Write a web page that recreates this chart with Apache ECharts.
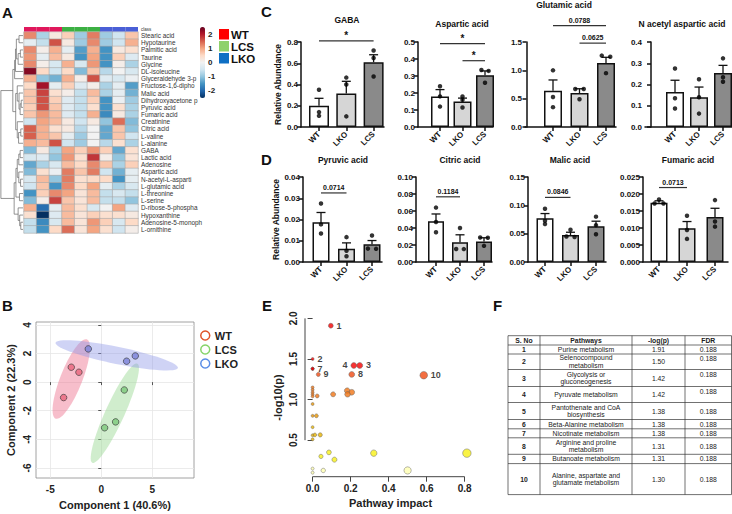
<!DOCTYPE html>
<html>
<head>
<meta charset="utf-8">
<script src="https://cdn.jsdelivr.net/npm/echarts@6/dist/echarts.min.js"></script>
<style>
html, body { margin: 0; padding: 0; background: #fff; }
#fig { width: 732px; height: 514px; }
</style>
</head>
<body>
<div id="fig"></div>
<script>
// ---------- A: heatmap ----------
const metabolites = ['Stearic acid', 'Hypotaurine', 'Palmitic acid', 'Taurine', 'Glycine', 'DL-isoleucine',
  'Glyceraldehyde 3-p', 'Fructose-1,6-dipho', 'Malic acid', 'Dihydroxyacetone p', 'Pyruvic acid', 'Fumaric acid',
  'Creatinine', 'Citric acid', 'L-valine', 'L-alanine', 'GABA', 'Lactic acid', 'Adenosine', 'Aspartic acid',
  'N-acetyl-L-asparti', 'L-glutamic acid', 'L-threonine', 'L-serine', 'D-ribose-5-phospha', 'Hypoxanthine',
  'Adenosine-5-monoph', 'L-ornithine'];
const sampleClass = ['WT', 'WT', 'WT', 'LCS', 'LCS', 'LCS', 'LKO', 'LKO', 'LKO'];
const zScores = [
  [1.2, -0.8, 0.2, 0.6, -0.9, 1.3, -0.9, -0.5, 0.7],
  [-0.2, -0.6, 1.6, 0.2, -0.9, 1.2, -0.9, -0.5, 0.9],
  [1.2, 0.1, 0.9, -0.2, -1.4, 0.9, -1.5, 0.2, 0.4],
  [1.1, -0.2, 0.8, 0.2, -1.5, 1.0, -1.5, 0.6, -0.3],
  [1.2, 0.1, -0.4, 0.9, -0.4, 1.1, -1.5, 0.1, -0.8],
  [2.3, 0.5, -0.5, 0.5, -1.1, 0.7, -0.7, 0.0, -0.4],
  [0.9, -1.0, -1.2, 0.9, 0.1, 1.6, -0.3, -0.4, -0.1],
  [0.5, 2.1, -0.2, 0.6, -0.3, 0.1, -0.8, -0.2, -1.4],
  [0.7, 1.7, 0.4, 0.1, -0.6, 0.8, -0.8, -0.2, -1.2],
  [0.7, 1.6, 0.6, -0.3, -0.6, 0.6, -1.5, -0.1, -0.9],
  [0.6, 1.6, 0.7, -0.3, -0.6, 0.4, -1.5, 0.4, -0.8],
  [0.7, 1.1, 0.8, -0.3, -0.6, 0.9, -1.6, 0.2, -0.8],
  [-0.5, 1.0, 0.8, 0.2, -0.5, 0.2, -1.0, 1.4, -1.1],
  [1.5, 0.9, 0.4, 0.2, -0.7, 0.0, -1.3, 0.7, -1.0],
  [1.5, 0.9, 0.7, -0.2, -0.9, 0.0, -1.3, 0.7, -0.5],
  [0.9, 0.8, 1.6, -0.5, -0.9, 0.0, -0.7, 0.4, -0.8],
  [-1.1, 0.2, -0.8, 1.0, 0.6, 1.1, 0.6, -1.3, 0.4],
  [-0.4, -0.3, -1.0, 1.1, 0.4, 1.8, 0.1, -1.0, 0.3],
  [-1.3, -0.8, -0.4, 0.8, 0.5, 1.2, 0.7, -0.8, 0.6],
  [-1.1, 0.4, -0.1, 1.3, 0.7, 1.3, -0.5, -1.2, -0.2],
  [-0.4, 0.8, -1.0, 1.3, 0.4, 0.5, 0.5, -1.5, -0.2],
  [-0.5, 0.7, -1.5, 1.2, 0.5, 1.0, -0.2, -0.8, -0.4],
  [-1.5, 0.6, 1.2, 1.0, 0.3, 0.8, -0.6, -0.4, -0.6],
  [-1.1, 0.1, 1.7, 0.7, 0.3, 0.8, -0.6, -0.6, -1.0],
  [0.9, -1.9, -0.2, 0.8, 0.4, -0.4, 0.0, 1.0, -0.3],
  [0.4, -2.6, -0.3, 0.8, 0.3, 0.6, 0.4, 0.4, 0.2],
  [-0.6, -1.6, -0.4, 0.8, 0.3, 1.1, 0.6, -0.4, 0.5],
  [-0.6, -1.5, 0.5, 1.4, 0.3, 1.0, 0.4, -0.5, 0.1]
];
// row dendrogram as linkage: [child a, child b, height]; new nodes numbered from 28
const rowLinkage = [
  [2, 3, 1.2], [0, 1, 1.8], [28, 4, 2.2], [29, 30, 3.0], [31, 5, 3.4], [32, 6, 3.8],
  [9, 10, 0.8], [34, 11, 1.3], [8, 35, 1.8], [7, 36, 2.6], [13, 14, 1.0], [38, 15, 2.0],
  [12, 39, 2.6], [37, 40, 3.3], [33, 41, 4.6],
  [16, 17, 1.3], [43, 18, 1.9], [20, 21, 1.1], [19, 45, 1.9], [44, 46, 2.6], [22, 23, 1.6],
  [47, 48, 3.2], [26, 27, 1.0], [25, 50, 1.5], [24, 51, 2.2], [49, 52, 4.0], [42, 53, 10]
];
const colorTicks = [-2, -1, 0, 1, 2];
const classLegend = ['WT', 'LCS', 'LKO'];

// ---------- C / D: bar charts ----------
const groups = ['WT', 'LKO', 'LCS'];
const gabaMean = [0.20, 0.315, 0.61], gabaSem = [0.07, 0.115, 0.07];
const gabaDots = [[0.35, 0.14, 0.105], [0.465, 0.40, 0.10], [0.72, 0.65, 0.475]];
const gabaSig = [[0, 2, 0.81, '*']];
const aspMean = [0.18, 0.15, 0.305], aspSem = [0.04, 0.02, 0.025];
const aspDots = [[0.24, 0.18, 0.12], [0.18, 0.16, 0.115], [0.335, 0.33, 0.26]];
const aspSig = [[0, 2, 0.49, '*'], [1, 2, 0.39, '*']];
const gluMean = [0.64, 0.60, 1.13], gluSem = [0.19, 0.075, 0.10];
const gluDots = [[1.0, 0.53, 0.35], [0.67, 0.67, 0.49], [1.26, 1.24, 0.95]];
const gluSig = [[0, 2, 1.79, '0.0788'], [1, 2, 1.48, '0.0625']];
const naaMean = [0.165, 0.14, 0.254], naaSem = [0.055, 0.048, 0.036];
const naaDots = [[0.275, 0.135, 0.087], [0.225, 0.14, 0.063], [0.323, 0.234, 0.213]];
const naaSig = [];
const pyrMean = [0.0187, 0.0062, 0.0083], pyrSem = [0.0046, 0.0028, 0.0018];
const pyrDots = [[0.0275, 0.0177, 0.0134], [0.0117, 0.0053, 0.0027], [0.0125, 0.0063, 0.0062]];
const pyrSig = [[0, 1, 0.0325, '0.0714']];
const citMean = [0.048, 0.0233, 0.024], citSem = [0.0085, 0.0087, 0.0045];
const citDots = [[0.064, 0.047, 0.035], [0.040, 0.0153, 0.0152], [0.0288, 0.0285, 0.019]];
const citSig = [[0, 1, 0.0767, '0.1184']];
const malMean = [0.077, 0.0475, 0.063], malSem = [0.0085, 0.005, 0.009];
const malDots = [[0.094, 0.073, 0.067], [0.057, 0.045, 0.044], [0.080, 0.065, 0.049]];
const malSig = [[0, 1, 0.114, '0.0846']];
const fumMean = [0.0174, 0.0099, 0.0132], fumSem = [0.0006, 0.002, 0.0026];
const fumDots = [[0.0184, 0.0172, 0.0172], [0.0136, 0.0094, 0.0068], [0.0182, 0.0119, 0.0104]];
const fumSig = [[0, 1, 0.0219, '0.0713']];

// ---------- B: PCA scores ----------
const pcaGroups = ['WT', 'LCS', 'LKO'];
const pcaWT = [[-3.69, -1.08], [-2.94, 1.04], [-2.19, 0.69]];
const pcaLCS = [[2.26, -0.55], [1.41, -2.78], [0.33, -3.19]];
const pcaLKO = [[-1.27, 2.32], [2.49, 1.46], [3.34, 1.83]];
const pcaXTicks = [-5, 0, 5];
const pcaYTicks = [-6, -4, -2, 0, 2, 4];

// ---------- E: pathway impact ----------
const eImpact = [0.096, 0, 0.248, 0.217, 0, 0, 0, 0.206, 0.03, 0.585,
  0.182, 0.206, 0.184, 0.108, 0.024, 0, 0, 0, 0, 0, 0, 0, 0.02, 0, 0, 0.012, 0.04, 0,
  0.086, 0.044, 0.115, 0.322, 0.812, 0.50, 0.056, 0, 0];
const eLogP = [1.91, 1.50, 1.42, 1.42, 1.38, 1.38, 1.38, 1.31, 1.31, 1.30,
  1.11, 1.09, 1.065, 1.065, 1.045, 1.15, 1.12, 1.09, 1.065, 1.04, 0.945, 0.80, 0.80, 0.66, 0.56, 0.565, 0.565, 0.51,
  0.35, 0.30, 0.26, 0.34, 0.34, 0.127, 0.127, 0.15, 0.10];
const eLabel = ['1', '2', '3', '4', '', '', '7', '8', '9', '10'];
const eXTicks = [0, 0.2, 0.4, 0.6, 0.8];
const eYTicks = [0.5, 1.0, 1.5, 2.0];

// ---------- F: table ----------
const fHeader = ['S. No', 'Pathways', '-log(p)', 'FDR'];
const fNo = ['1', '2', '3', '4', '5', '6', '7', '8', '9', '10'];
const fPathway = ['Purine metabolism', 'Selenocompound\nmetabolism', 'Glycolysis or\ngluconeogenesis',
  'Pyruvate metabolism', 'Pantothenate and CoA\nbiosynthesis', 'Beta-Alanine metabolism',
  'Nicotinate metabolism', 'Arginine and proline\nmetabolism', 'Butanoate metabolism',
  'Alanine, aspartate and\nglutamate metabolism'];
const fLogP = ['1.91', '1.50', '1.42', '1.42', '1.38', '1.38', '1.38', '1.31', '1.31', '1.30'];
const fFDR = ['0.188', '0.188', '0.188', '0.188', '0.188', '0.188', '0.188', '0.188', '0.188', '0.188'];

// ================= build =================
const FONT = "'Liberation Sans', Arial, sans-serif";
const INK = '#111';
const grids = [], xAxes = [], yAxes = [], series = [], graphics = [];

function addGrid(g, xa, ya) {
  grids.push(Object.assign({ containLabel: false, outerBoundsMode: 'none' }, g));
  const gi = grids.length - 1;
  xa.gridIndex = gi; ya.gridIndex = gi;
  xAxes.push(xa); yAxes.push(ya);
  return gi;
}
function txt(text, x, y, font, align, valign, fill) {
  graphics.push({ type: 'text', x: x, y: y, silent: true,
    style: { text: text, font: font, fill: fill || INK, textAlign: align || 'left', textVerticalAlign: valign || 'top' } });
}

// panel letters
txt('A', 2, 5, 'bold 15px ' + FONT);
txt('C', 261, 4, 'bold 15px ' + FONT);
txt('D', 261, 152, 'bold 15px ' + FONT);
txt('B', 2, 298, 'bold 15px ' + FONT);
txt('E', 262, 298, 'bold 15px ' + FONT);
txt('F', 493, 298, 'bold 15px ' + FONT);

// --- A heatmap
const samples = sampleClass.map((c, i) => c + (i % 3 + 1));
const gHeat = addGrid({ left: 24, top: 32, width: 114, height: 201 },
  { type: 'category', data: samples, show: false },
  { type: 'category', data: metabolites, inverse: true, position: 'right',
    axisLine: { show: false }, axisTick: { show: false }, splitLine: { show: false },
    axisLabel: { interval: 0, fontSize: 6.4, color: '#333', margin: 3, fontFamily: FONT } });
const heatData = [];
zScores.forEach((row, r) => row.forEach((v, c) => heatData.push([c, r, v])));
series.push({ type: 'heatmap', xAxisIndex: gHeat, yAxisIndex: gHeat, data: heatData, silent: true,
  itemStyle: { borderColor: '#a9a9a9', borderWidth: 0.6 } });
const heatIdx = series.length - 1;

// class bar
const classBarColor = { WT: '#e0185c', LCS: '#3cb043', LKO: '#4a5fd6' };
const gClass = addGrid({ left: 24, top: 27, width: 114, height: 4.5 },
  { type: 'category', data: samples, show: false },
  { type: 'category', data: ['class'], position: 'right', axisLine: { show: false }, axisTick: { show: false },
    axisLabel: { fontSize: 4.5, color: '#333', margin: 3, fontFamily: FONT } });
series.push({ type: 'custom', xAxisIndex: gClass, yAxisIndex: gClass, silent: true,
  data: sampleClass.map((c, i) => [i, 0]),
  renderItem: (p, api) => {
    const pt = api.coord([api.value(0), api.value(1)]);
    const sz = api.size([1, 1]);
    return { type: 'rect', shape: { x: pt[0] - sz[0] / 2, y: pt[1] - sz[1] / 2, width: sz[0], height: sz[1] },
      style: { fill: classBarColor[sampleClass[p.dataIndex]] } };
  } });

// dendrogram
const nodePos = metabolites.map((m, i) => [0, i]);
const dendroLines = rowLinkage.map(([a, b, h]) => {
  const pa = nodePos[a], pb = nodePos[b];
  nodePos.push([h, (pa[1] + pb[1]) / 2]);
  return { coords: [[pa[0], pa[1]], [h, pa[1]], [h, pb[1]], [pb[0], pb[1]]] };
});
const gDen = addGrid({ left: 0, top: 32, width: 23, height: 201 },
  { type: 'value', min: 0, max: 10.4, inverse: true, show: false },
  { type: 'value', min: -0.5, max: metabolites.length - 0.5, inverse: true, show: false });
series.push({ type: 'lines', coordinateSystem: 'cartesian2d', xAxisIndex: gDen, yAxisIndex: gDen,
  polyline: true, silent: true, data: dendroLines, lineStyle: { color: '#666', width: 0.7, opacity: 1 } });

// colour bar ticks
const gBar = addGrid({ left: 200, top: 27, width: 5, height: 71 },
  { type: 'value', min: 0, max: 1, show: false },
  { type: 'value', min: -2.5, max: 2.5, position: 'right', axisLine: { show: false }, splitLine: { show: false },
    axisTick: { show: true, customValues: colorTicks, length: 2, lineStyle: { color: '#333', width: 0.6 } },
    axisLabel: { customValues: colorTicks, fontSize: 8, fontWeight: 'bold', color: '#222', margin: 3, fontFamily: FONT } });

// class legend
const legendFill = { WT: '#ff0000', LCS: '#8fd16b', LKO: '#0e6fc4' };
classLegend.forEach((c, i) => {
  graphics.push({ type: 'rect', silent: true, shape: { x: 219, y: 29 + i * 12, width: 10, height: 10.5 }, style: { fill: legendFill[c] } });
  txt(c, 231, 34.5 + i * 12, 'bold 11.5px ' + FONT, 'left', 'middle');
});

// --- C & D bar charts
const barCharts = [
  { title: 'GABA', mean: gabaMean, sem: gabaSem, dots: gabaDots, sig: gabaSig, max: 0.8, step: 0.2, dec: 1 },
  { title: 'Aspartic acid', mean: aspMean, sem: aspSem, dots: aspDots, sig: aspSig, max: 0.5, step: 0.1, dec: 1 },
  { title: 'Glutamic acid', mean: gluMean, sem: gluSem, dots: gluDots, sig: gluSig, max: 1.5, step: 0.5, dec: 1 },
  { title: 'N acetyl aspartic acid', mean: naaMean, sem: naaSem, dots: naaDots, sig: naaSig, max: 0.4, step: 0.1, dec: 1 },
  { title: 'Pyruvic acid', mean: pyrMean, sem: pyrSem, dots: pyrDots, sig: pyrSig, max: 0.04, step: 0.01, dec: 2 },
  { title: 'Citric acid', mean: citMean, sem: citSem, dots: citDots, sig: citSig, max: 0.10, step: 0.02, dec: 2 },
  { title: 'Malic acid', mean: malMean, sem: malSem, dots: malDots, sig: malSig, max: 0.15, step: 0.05, dec: 2 },
  { title: 'Fumaric acid', mean: fumMean, sem: fumSem, dots: fumDots, sig: fumSig, max: 0.025, step: 0.005, dec: 3 }
];
const barLayout = [
  { x0: 301, c1: 319, sp: 27.3, end: 384, bw: 20, top: 42, tx: 347, ty: 20 },
  { x0: 418, c1: 440, sp: 22.5, end: 493, bw: 18, top: 42, tx: 462, ty: 24 },
  { x0: 525, c1: 553, sp: 26.5, end: 616, bw: 18, top: 42, tx: 564, ty: 5 },
  { x0: 645, c1: 675, sp: 24, end: 732, bw: 18, top: 42, tx: 682, ty: 24 },
  { x0: 303, c1: 321, sp: 25.5, end: 382, bw: 17, top: 177, tx: 343, ty: 160 },
  { x0: 416, c1: 436, sp: 24, end: 492, bw: 16, top: 177, tx: 460, ty: 160 },
  { x0: 528, c1: 545, sp: 25.5, end: 606, bw: 17, top: 177, tx: 570, ty: 160 },
  { x0: 643, c1: 659, sp: 28, end: 728, bw: 17, top: 177, tx: 688, ty: 160 }
];
const barFill = ['#ffffff', '#d6d6d6', '#8a8a8a'];
const axisLine = { show: true, lineStyle: { color: INK, width: 1.5 } };

// spread dots that sit at almost the same height
function dotOffsets(vals, thr) {
  const comp = vals.map((v, i) => i);
  vals.forEach((v, i) => vals.forEach((w, j) => { if (j > i && Math.abs(v - w) < thr) comp[j] = comp[i]; }));
  return vals.map((v, i) => {
    const members = vals.map((w, j) => j).filter(j => comp[j] === comp[i]);
    if (members.length === 1) return 0;
    const k = members.indexOf(i);
    const pattern = members.length === 2 ? [-0.16, 0.16] : [-0.2, 0, 0.2];
    return pattern[k];
  });
}

barCharts.forEach((c, k) => {
  const L = barLayout[k];
  const xmin = 1 - (L.c1 - L.x0) / L.sp;
  const xmax = 3 + (L.end - (L.c1 + 2 * L.sp)) / L.sp;
  const gi = addGrid({ left: L.x0, top: L.top, width: L.end - L.x0, height: 85 },
    { type: 'value', min: xmin, max: xmax, axisLine: axisLine, splitLine: { show: false },
      axisTick: { show: true, customValues: [1, 2, 3], length: 4, lineStyle: { color: INK, width: 1.5 } },
      axisLabel: { customValues: [1, 2, 3], formatter: v => groups[Math.round(v) - 1], rotate: 45,
        fontSize: 8, fontWeight: 'bold', color: INK, margin: 6, fontFamily: FONT } },
    { type: 'value', min: 0, max: c.max, interval: c.step, axisLine: axisLine, splitLine: { show: false },
      axisTick: { show: true, length: 4, lineStyle: { color: INK, width: 1.5 } },
      axisLabel: { formatter: v => v.toFixed(c.dec), fontSize: 8, fontWeight: 'bold', color: INK, margin: 3, fontFamily: FONT },
      name: k % 4 === 0 ? 'Relative Abundance' : '', nameLocation: 'middle', nameGap: k === 0 ? 16 : 22,
      nameTextStyle: { fontSize: 8.5, fontWeight: 'bold', color: INK, fontFamily: FONT } });
  txt(c.title, L.tx, L.ty, 'bold 8.5px ' + FONT, 'center', 'middle');
  series.push({ type: 'bar', xAxisIndex: gi, yAxisIndex: gi, barWidth: L.bw, silent: true,
    data: c.mean.map((v, i) => ({ value: [i + 1, v], itemStyle: { color: barFill[i] } })),
    itemStyle: { borderColor: INK, borderWidth: 1.5 } });
  series.push({ type: 'custom', xAxisIndex: gi, yAxisIndex: gi, silent: true, z: 3,
    data: c.mean.map((v, i) => [i + 1, v, v + c.sem[i]]),
    renderItem: (p, api) => {
      const a = api.coord([api.value(0), api.value(1)]);
      const b = api.coord([api.value(0), api.value(2)]);
      const st = { stroke: INK, lineWidth: 1.3 };
      return { type: 'group', children: [
        { type: 'line', shape: { x1: a[0], y1: a[1], x2: b[0], y2: b[1] }, style: st },
        { type: 'line', shape: { x1: b[0] - 4.5, y1: b[1], x2: b[0] + 4.5, y2: b[1] }, style: st }
      ] };
    } });
  const dotData = [];
  c.dots.forEach((vals, i) => {
    const off = dotOffsets(vals, c.max * 0.035);
    vals.forEach((v, j) => dotData.push([i + 1 + off[j], v]));
  });
  series.push({ type: 'scatter', xAxisIndex: gi, yAxisIndex: gi, silent: true, z: 4, symbolSize: 4.5,
    itemStyle: { color: '#000' }, data: dotData });
  if (c.sig.length) {
    series.push({ type: 'custom', xAxisIndex: gi, yAxisIndex: gi, silent: true, clip: false, z: 5,
      data: c.sig.map(s => [s[0] + 1, s[1] + 1, s[2]]),
      renderItem: (p, api) => {
        const a = api.coord([api.value(0), api.value(2)]);
        const b = api.coord([api.value(1), api.value(2)]);
        const label = c.sig[p.dataIndex][3];
        const star = label === '*';
        return { type: 'group', children: [
          { type: 'line', shape: { x1: a[0], y1: a[1], x2: b[0], y2: b[1] }, style: { stroke: '#333', lineWidth: 1.2 } },
          { type: 'text', x: (a[0] + b[0]) / 2, y: a[1] - (star ? 0 : 2),
            style: { text: label, textAlign: 'center', textVerticalAlign: 'bottom', fill: INK,
              font: (star ? 'bold 10px ' : 'bold 7px ') + FONT } }
        ] };
      } });
  }
});

// --- B PCA
const pcaSets = { WT: pcaWT, LCS: pcaLCS, LKO: pcaLKO };
const pcaFill = { WT: '#e8657c', LCS: '#7cc87a', LKO: '#7a82d8' };
const pcaEllipse = { WT: 'rgba(238,110,140,0.45)', LCS: 'rgba(150,215,145,0.45)', LKO: 'rgba(140,150,230,0.42)' };
const pcaLegendColor = { WT: '#e0552a', LCS: '#86d46a', LKO: '#5b8ee6' };
const gPca = addGrid({ left: 36, top: 322, width: 158, height: 156, show: true, borderColor: '#8a8a8a', borderWidth: 0.8 },
  { type: 'value', min: -6.4, max: 9.1, splitNumber: 3, axisLine: { show: false },
    axisTick: { show: true, customValues: pcaXTicks, length: 3, lineStyle: { color: '#555' } },
    axisLabel: { customValues: pcaXTicks, fontSize: 10, fontWeight: 'bold', color: '#222', margin: 6, fontFamily: FONT },
    splitLine: { show: true, lineStyle: { color: '#e6e6e6', width: 0.8 } },
    name: 'Component 1 (40.6%)', nameLocation: 'middle', nameGap: 21,
    nameTextStyle: { fontSize: 11, fontWeight: 'bold', color: '#222', fontFamily: FONT } },
  { type: 'value', min: -6.7, max: 4.2, splitNumber: 5, axisLine: { show: false },
    axisTick: { show: true, customValues: pcaYTicks, length: 3, lineStyle: { color: '#555' } },
    axisLabel: { customValues: pcaYTicks, rotate: 90, fontSize: 10, fontWeight: 'bold', color: '#222', margin: 4, fontFamily: FONT },
    splitLine: { show: true, lineStyle: { color: '#e6e6e6', width: 0.8 } },
    name: 'Component 2 (22.3%)', nameLocation: 'middle', nameGap: 20,
    nameTextStyle: { fontSize: 11, fontWeight: 'bold', color: '#222', fontFamily: FONT } });

// 95% confidence ellipse from the group's scores
function ellipse(pts) {
  const n = pts.length;
  const mx = pts.reduce((s, p) => s + p[0], 0) / n, my = pts.reduce((s, p) => s + p[1], 0) / n;
  let sxx = 0, syy = 0, sxy = 0;
  pts.forEach(p => { sxx += (p[0] - mx) ** 2; syy += (p[1] - my) ** 2; sxy += (p[0] - mx) * (p[1] - my); });
  sxx /= n - 1; syy /= n - 1; sxy /= n - 1;
  const tr = sxx + syy, det = sxx * syy - sxy * sxy;
  const l1 = tr / 2 + Math.sqrt(tr * tr / 4 - det), l2 = tr / 2 - Math.sqrt(tr * tr / 4 - det);
  const ang = Math.atan2(l1 - sxx, sxy || 1e-9);
  const k = Math.sqrt(5.991);
  const out = [];
  for (let t = 0; t < 64; t++) {
    const th = t / 64 * Math.PI * 2;
    const u = k * Math.sqrt(l1) * Math.cos(th), v = k * Math.sqrt(Math.max(l2, 0)) * Math.sin(th);
    out.push([mx + u * Math.cos(ang) - v * Math.sin(ang), my + u * Math.sin(ang) + v * Math.cos(ang)]);
  }
  return out;
}
pcaGroups.forEach(g => {
  const poly = ellipse(pcaSets[g]);
  series.push({ type: 'custom', name: g, xAxisIndex: gPca, yAxisIndex: gPca, silent: true, z: 1,
    data: [poly[0]],
    renderItem: (p, api) => ({ type: 'polygon', shape: { points: poly.map(q => api.coord(q)) },
      style: { fill: pcaEllipse[g] } }) });
});
pcaGroups.forEach(g => {
  series.push({ type: 'scatter', name: g, xAxisIndex: gPca, yAxisIndex: gPca, z: 3, symbolSize: 6.5, silent: true,
    itemStyle: { color: pcaFill[g], borderColor: '#333', borderWidth: 0.8 }, data: pcaSets[g] });
});

// --- E pathway impact
const gPath = addGrid({ left: 305, top: 318.4, width: 171, height: 158.3 },
  { type: 'value', min: -0.04, max: 0.86, axisLine: { show: false }, splitLine: { show: false },
    axisTick: { show: true, customValues: eXTicks, length: 5, lineStyle: { color: '#444' } },
    axisLabel: { customValues: eXTicks, formatter: v => v.toFixed(1), fontSize: 10, fontWeight: 'bold', color: '#222', margin: 7, fontFamily: FONT },
    name: 'Pathway impact', nameLocation: 'middle', nameGap: 21,
    nameTextStyle: { fontSize: 11, fontWeight: 'bold', color: '#222', fontFamily: FONT } },
  { type: 'value', min: 0.05, max: 2.0, axisLine: { show: false }, splitLine: { show: false },
    axisTick: { show: true, customValues: eYTicks, length: 5, lineStyle: { color: '#444' } },
    axisLabel: { customValues: eYTicks, formatter: v => v.toFixed(1), rotate: 90, fontSize: 10, fontWeight: 'bold', color: '#222', margin: 7, fontFamily: FONT },
    name: '-log10(p)', nameLocation: 'middle', nameGap: 22,
    nameTextStyle: { fontSize: 11, fontWeight: 'bold', color: '#222', fontFamily: FONT } });
// axis lines spanning the tick range only
series.push({ type: 'custom', xAxisIndex: gPath, yAxisIndex: gPath, silent: true, clip: false, data: [[0, 0]],
  renderItem: (p, api) => {
    const y0 = api.coord([-0.04, eYTicks[0]]), y1 = api.coord([-0.04, eYTicks[eYTicks.length - 1]]);
    const x0 = api.coord([eXTicks[0], 0.05]), x1 = api.coord([eXTicks[eXTicks.length - 1], 0.05]);
    const st = { stroke: '#444', lineWidth: 1 };
    return { type: 'group', children: [
      { type: 'line', shape: { x1: y0[0], y1: y0[1], x2: y1[0], y2: y1[1] }, style: st },
      { type: 'line', shape: { x1: x0[0], y1: x0[1], x2: x1[0], y2: x1[1] }, style: st }
    ] };
  } });
const ePoints = eImpact.map((x, i) => {
  const lab = eLabel[i] || '';
  return { value: [x, eLogP[i]], symbolSize: 3 + 6 * Math.sqrt(x),
    label: { show: lab !== '', formatter: lab, position: lab === '4' ? 'left' : 'right', distance: 3,
      fontSize: 9, fontWeight: 'bold', color: INK, fontFamily: FONT } };
});
series.push({ type: 'scatter', xAxisIndex: gPath, yAxisIndex: gPath, silent: true, z: 3, data: ePoints,
  itemStyle: { borderColor: '#666', borderWidth: 0.6 } });
const ePathIdx = series.length - 1;

// --- F table
const tCols = [508, 540, 632, 685, 731.5];
const tTop = 335.7;
const tRowH = [9.3, 9, 15.5, 17, 16, 17, 9.3, 9, 16.5, 9.3, 31];
const tRows = [fHeader].concat(fNo.map((n, i) => [n, fPathway[i], fLogP[i], fFDR[i]]));
let ty = tTop;
const tLine = { stroke: '#333', lineWidth: 0.7 };
tRows.forEach((r, ri) => {
  const h = tRowH[ri];
  graphics.push({ type: 'line', silent: true, shape: { x1: tCols[0], y1: ty, x2: tCols[4], y2: ty }, style: tLine });
  r.forEach((s, ci) => {
    const cx = (tCols[ci] + tCols[ci + 1]) / 2;
    const bold = ri === 0 || ci === 0;
    // FDR of rows 2-4 sits near the top of its cell
    const topFdr = ci === 3 && ri >= 2 && ri <= 4;
    graphics.push({ type: 'text', silent: true, x: cx, y: topFdr ? ty + 4.5 : ty + h / 2,
      style: { text: s, textAlign: 'center', textVerticalAlign: 'middle', lineHeight: 7.6, fill: '#222',
        font: (bold ? 'bold ' : '') + '6.8px ' + FONT } });
  });
  ty += h;
});
graphics.push({ type: 'line', silent: true, shape: { x1: tCols[0], y1: ty, x2: tCols[4], y2: ty }, style: tLine });
tCols.forEach(x => graphics.push({ type: 'line', silent: true, shape: { x1: x, y1: tTop, x2: x, y2: ty }, style: tLine }));

// ================= option =================
const option = {
  backgroundColor: '#fff',
  animation: false,
  textStyle: { fontFamily: FONT },
  grid: grids,
  xAxis: xAxes,
  yAxis: yAxes,
  visualMap: [
    { type: 'continuous', seriesIndex: heatIdx, min: -2.5, max: 2.5, left: 200, top: 27, padding: 0,
      itemWidth: 5, itemHeight: 71, calculable: false, hoverLink: false, showLabel: false,
      inRange: { color: ['#053061', '#2166ac', '#4393c3', '#92c5de', '#d1e5f0', '#f2f2f2',
        '#fddbc7', '#f4a582', '#d6604d', '#b2182b', '#67001f'] } },
    { type: 'piecewise', seriesIndex: ePathIdx, dimension: 1, show: false,
      pieces: [
        { min: 0, max: 0.2, color: '#ffffb0' },
        { min: 0.2, max: 0.45, color: '#f8f016' },
        { min: 0.45, max: 0.7, color: '#e8b400' },
        { min: 0.7, max: 1.0, color: '#e89400' },
        { min: 1.0, max: 1.2, color: '#f07414' },
        { min: 1.2, max: 1.36, color: '#f04a12' },
        { min: 1.36, max: 2.1, color: '#f40000' }
      ] }
  ],
  legend: {
    left: 200, top: 330, orient: 'vertical', itemGap: 3, icon: 'circle', itemWidth: 9, itemHeight: 9,
    selectedMode: false, padding: 0,
    textStyle: { fontSize: 11, fontWeight: 'bold', color: '#222', fontFamily: FONT },
    data: pcaGroups.map(g => ({ name: g, icon: 'circle',
      itemStyle: { color: '#fff', borderColor: pcaLegendColor[g], borderWidth: 1.5 } }))
  },
  series: series,
  graphic: graphics
};

const chart = echarts.init(document.getElementById('fig'), null, { renderer: 'svg' });
chart.setOption(option);
</script>
</body>
</html>
